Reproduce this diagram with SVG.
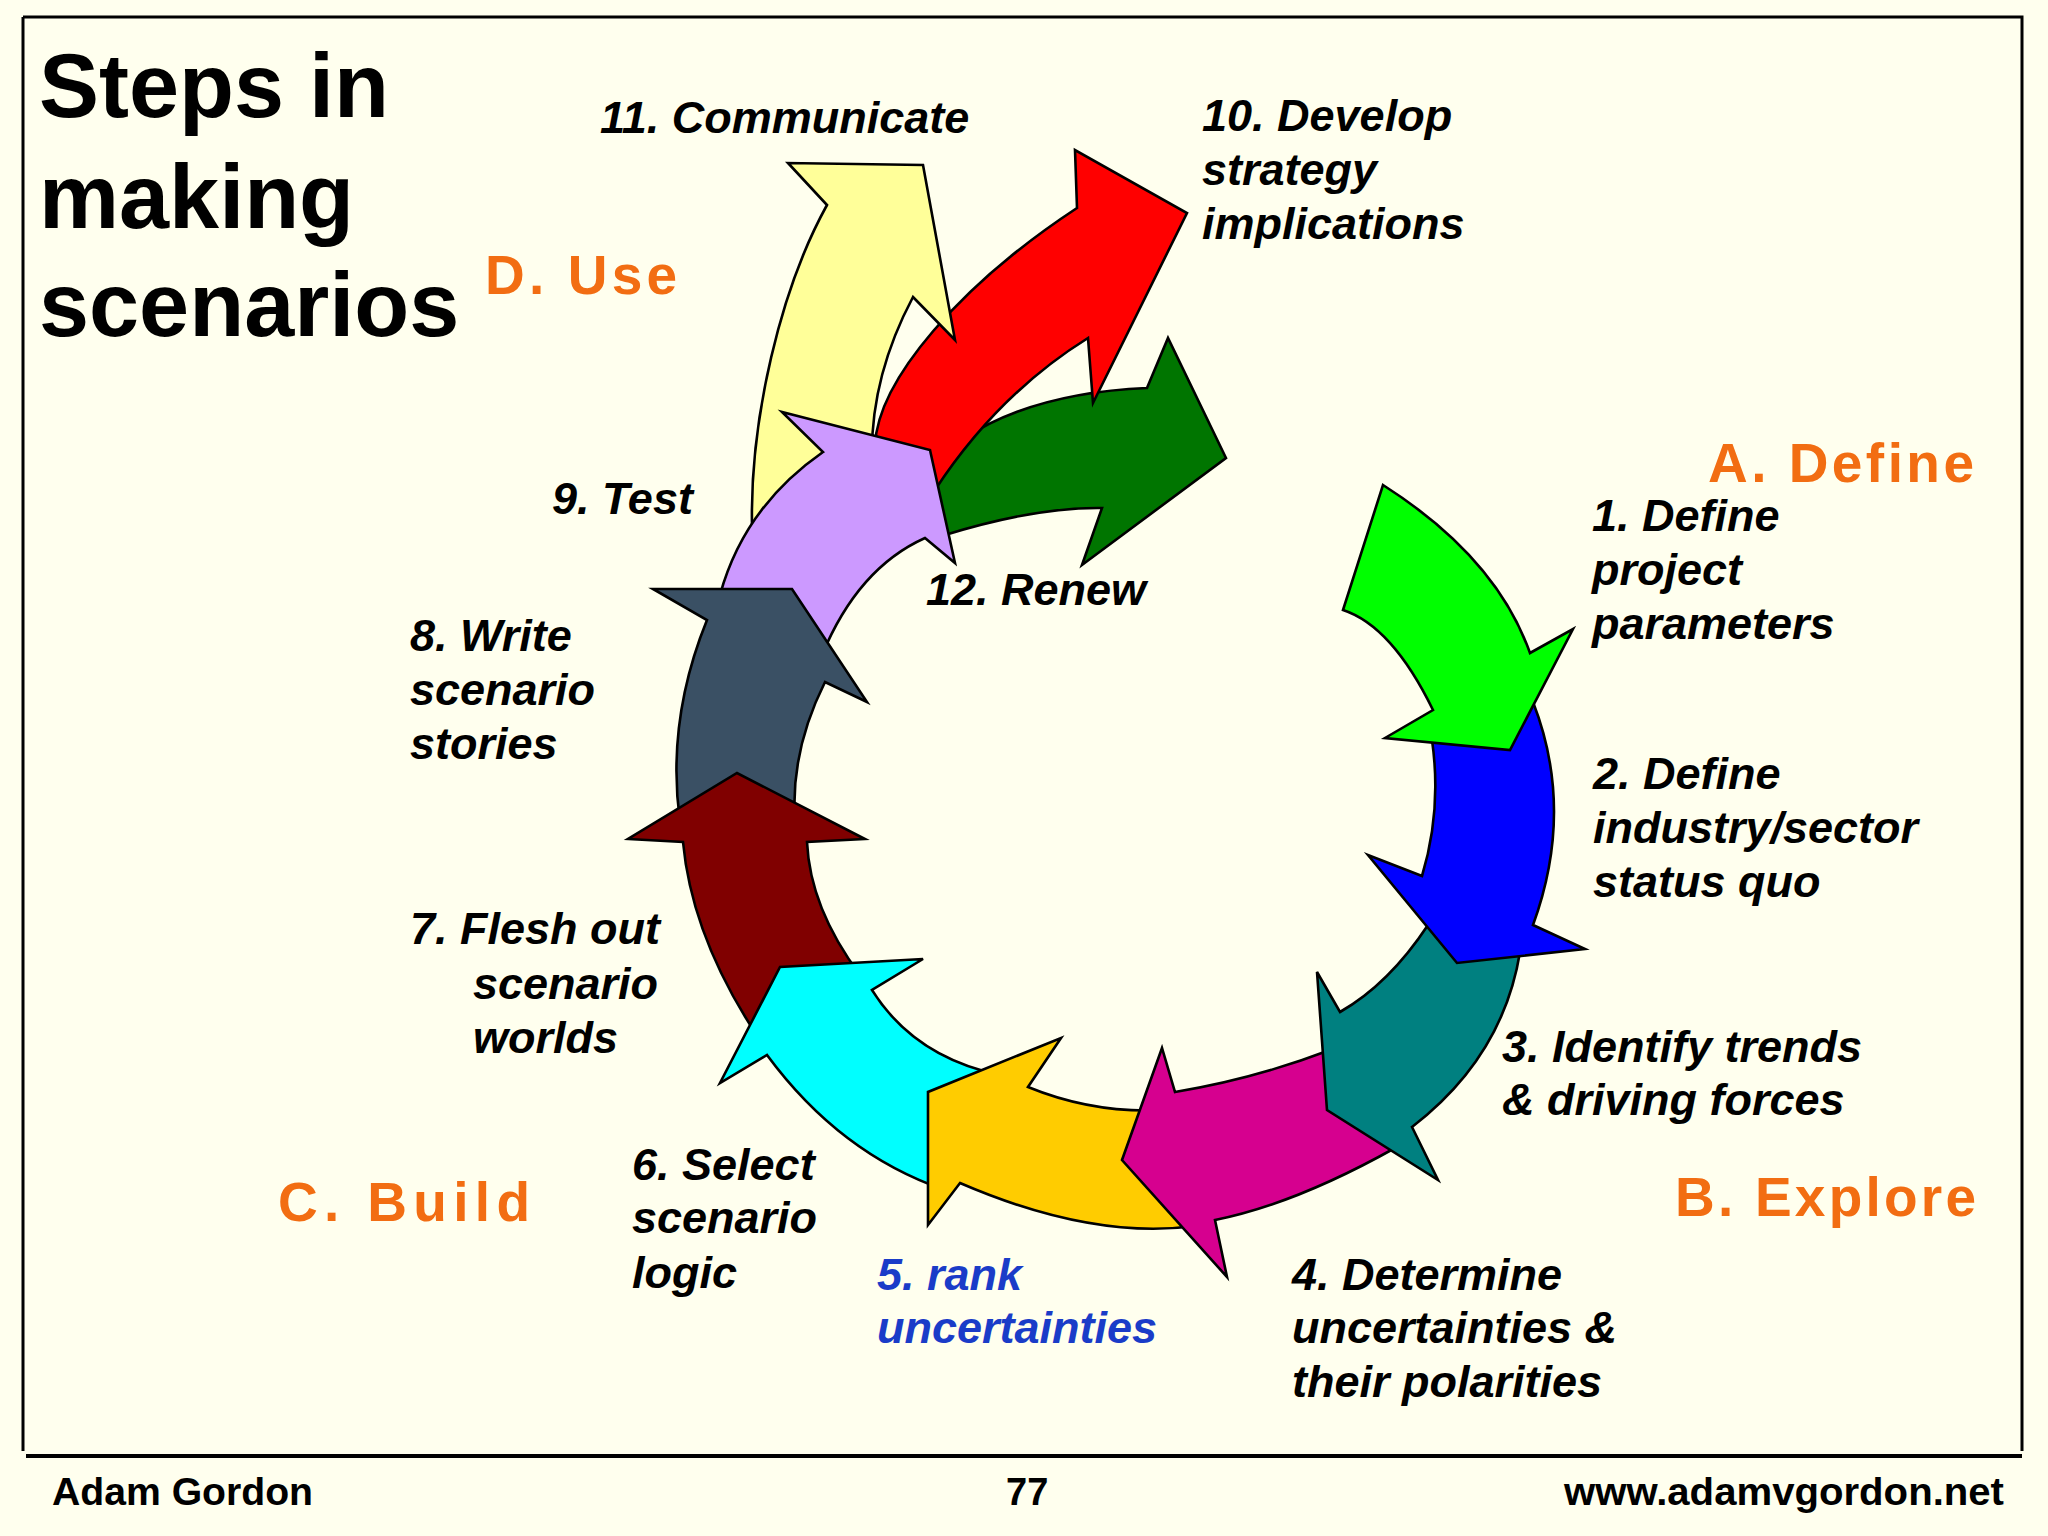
<svg xmlns="http://www.w3.org/2000/svg" width="2048" height="1536" viewBox="0 0 2048 1536">
<style>
.frame{stroke:#000;stroke-width:3;fill:none}
.arr{stroke:#000;stroke-width:2.6;stroke-linejoin:miter}
.title{font-family:"Liberation Sans",Arial,sans-serif;font-weight:bold;font-size:90px;fill:#000}
.phase{font-family:"Liberation Sans",Arial,sans-serif;font-weight:bold;font-size:55px;fill:#F26D12}
.lbl{font-family:"Liberation Sans",Arial,sans-serif;font-weight:bold;font-style:italic;font-size:45px;fill:#000}
.blue{fill:#1A3CC8}
.foot{font-family:"Liberation Sans",Arial,sans-serif;font-weight:bold;font-size:38px;fill:#000}
</style>
<rect x="0" y="0" width="2048" height="1536" fill="#FFFFEE"/>
<g id="frame">
<path class="frame" d="M23,17 H2022 V1451 M23,17 V1451"/>
<path d="M26,1456 H2022" stroke="#000" stroke-width="4"/>
</g>
<g id="title">
<text class="title" x="39" y="117">Steps in</text>
<text class="title" x="39" y="228">making</text>
<text class="title" x="39" y="336">scenarios</text>
</g>
<g id="phases">
<text class="phase" x="485" y="294" textLength="192" lengthAdjust="spacing">D. Use</text>
<text class="phase" x="1708" y="482" textLength="266" lengthAdjust="spacing">A. Define</text>
<text class="phase" x="1675" y="1216" textLength="301" lengthAdjust="spacing">B. Explore</text>
<text class="phase" x="278" y="1221" textLength="252" lengthAdjust="spacing">C. Build</text>
</g>
<g id="connectors"></g>
<g id="step12">
<path class="arr" fill="#007500" d="M930,470 C970,420 1050,392 1147,388 L1168,338 L1226,458 L1082,565 L1102,508 Q1036,507 945,535 Z"/>
<text class="lbl" x="926" y="605">12. Renew</text>
</g>
<g id="step10">
<path class="arr" fill="#FF0000" d="M875,445 C878,380 960,285 1077,208 L1075,150 L1187,213 L1093,403 L1088,338 Q998,394 935,490 Z"/>
<text class="lbl" x="1202" y="131">10. Develop</text>
<text class="lbl" x="1202" y="185">strategy</text>
<text class="lbl" x="1202" y="239">implications</text>
</g>
<g id="step11">
<path class="arr" fill="#FFFF99" d="M752,525 C750,420 780,290 827,205 L788,163 L923,165 L955,340 L913,297 Q870,378 872,460 Z"/>
<text class="lbl" x="600" y="133">11. Communicate</text>
</g>
<g id="step9">
<path class="arr" fill="#CC99FF" d="M720,595 Q744,507 823,452 L782,412 L930,450 L955,563 L925,538 Q858,568 822,655 Z"/>
<text class="lbl" x="552" y="514">9. Test</text>
</g>
<g id="step8">
<path class="arr" fill="#3A5064" d="M680,822 Q666,721 707,620 L653,589 L792,589 L867,702 L825,682 Q790,752 795,822 Z"/>
<text class="lbl" x="410" y="651">8. Write</text>
<text class="lbl" x="410" y="705">scenario</text>
<text class="lbl" x="410" y="759">stories</text>
</g>
<g id="step7">
<path class="arr" fill="#800000" d="M760,1040 Q692,939 683,842 L628,839 L737,773 L865,839 L807,842 Q810,908 860,975 Z"/>
<text class="lbl" x="410" y="944">7. Flesh out</text>
<text class="lbl" x="473" y="999">scenario</text>
<text class="lbl" x="473" y="1053">worlds</text>
</g>
<g id="step6">
<path class="arr" fill="#00FFFF" d="M945,1190 Q840,1154 767,1055 L720,1083 L780,967 L923,959 L872,990 Q914,1057 1000,1075 Z"/>
<text class="lbl" x="632" y="1180">6. Select</text>
<text class="lbl" x="632" y="1233">scenario</text>
<text class="lbl" x="632" y="1288">logic</text>
</g>
<g id="step5">
<path class="arr" fill="#FFCC00" d="M1195,1226 Q1092,1240 960,1183 L928,1225 L928,1092 L1061,1038 L1028,1087 Q1094,1114 1165,1110 Z"/>
<text class="lbl blue" x="877" y="1290">5. rank</text>
<text class="lbl blue" x="877" y="1343">uncertainties</text>
</g>
<g id="step4">
<path class="arr" fill="#D6008F" d="M1330,1050 Q1254,1079 1175,1092 L1162,1048 L1122,1160 L1227,1277 L1215,1220 Q1295,1204 1395,1148 Z"/>
<text class="lbl" x="1292" y="1290">4. Determine</text>
<text class="lbl" x="1292" y="1343">uncertainties &amp;</text>
<text class="lbl" x="1292" y="1397">their polarities</text>
</g>
<g id="step3">
<path class="arr" fill="#008080" d="M1520,952 Q1503,1057 1412,1127 L1438,1180 L1327,1110 L1317,972 L1340,1012 Q1389,984 1428,925 Z"/>
<text class="lbl" x="1502" y="1062">3. Identify trends</text>
<text class="lbl" x="1502" y="1115">&amp; driving forces</text>
</g>
<g id="step2">
<path class="arr" fill="#0000FF" d="M1533,702 Q1575,810 1533,925 L1585,949 L1457,963 L1368,855 L1422,876 Q1442,810 1432,740 Z"/>
<text class="lbl" x="1593" y="789">2. Define</text>
<text class="lbl" x="1593" y="843">industry/sector</text>
<text class="lbl" x="1593" y="897">status quo</text>
</g>
<g id="step1">
<path class="arr" fill="#00FF00" d="M1383,485 Q1496,557 1530,653 L1573,629 L1510,750 L1385,738 L1433,710 Q1392,626 1343,610 Z"/>
<text class="lbl" x="1592" y="531">1. Define</text>
<text class="lbl" x="1592" y="585">project</text>
<text class="lbl" x="1592" y="639">parameters</text>
</g>
<g id="footer">
<text class="foot" x="52" y="1505" textLength="261" lengthAdjust="spacingAndGlyphs">Adam Gordon</text>
<text class="foot" x="1006" y="1505">77</text>
<text class="foot" x="1564" y="1505" textLength="440" lengthAdjust="spacingAndGlyphs">www.adamvgordon.net</text>
</g>
</svg>
